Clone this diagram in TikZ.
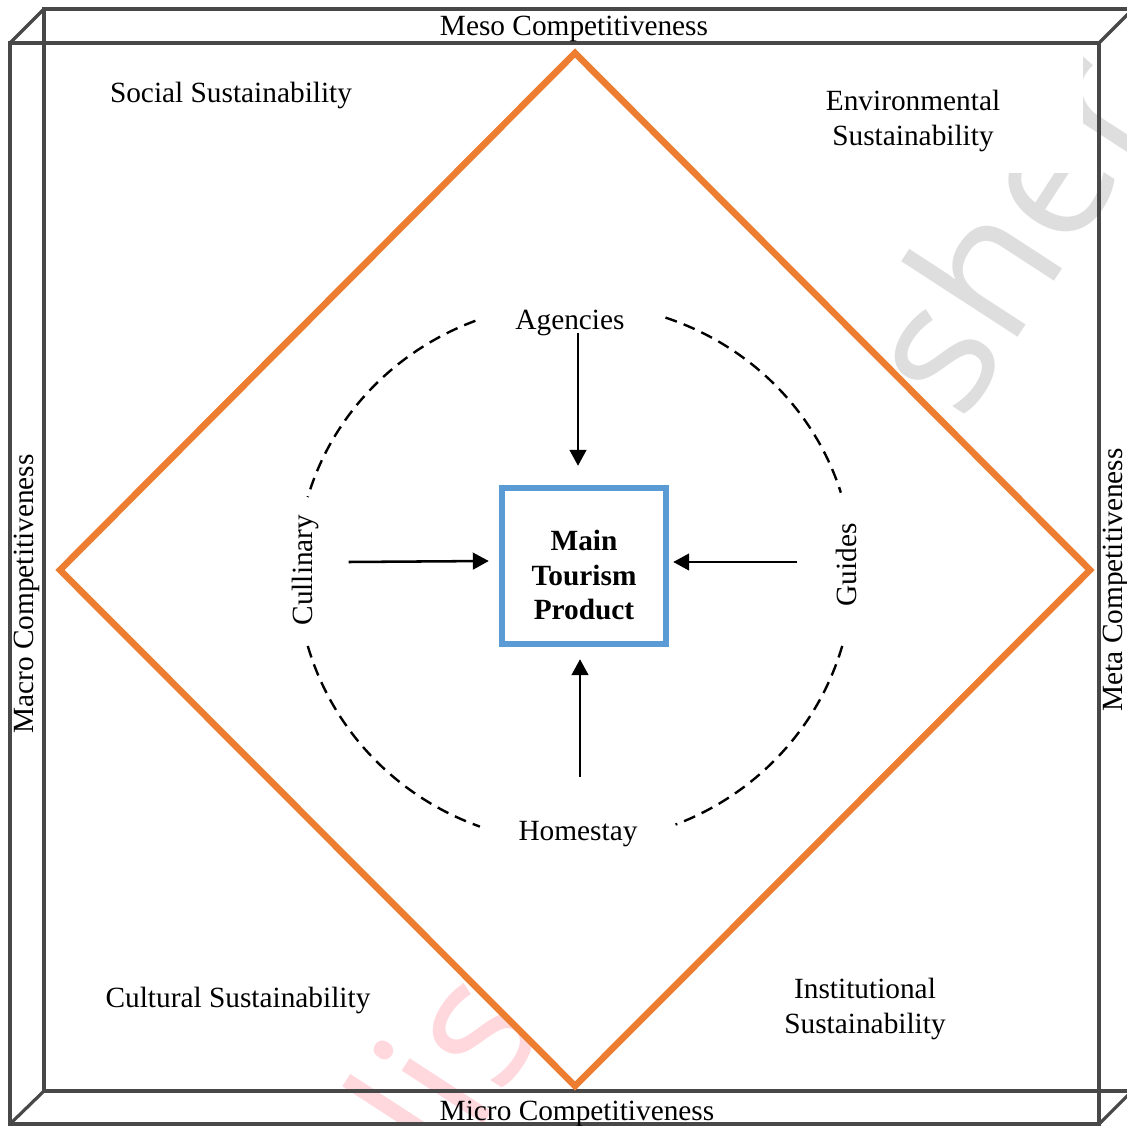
\documentclass[tikz,border=0pt]{standalone}
\usepackage{fontspec}
\setmainfont{Liberation Serif}
\newfontfamily\wmfont{Open Sans}
\usetikzlibrary{arrows.meta}
\definecolor{frameC}{HTML}{484848}
\definecolor{orangeC}{HTML}{ED7D31}
\definecolor{blueC}{HTML}{5B9BD5}
\definecolor{wmGray}{HTML}{DEDEDE}
\definecolor{wmRed}{HTML}{FFD8DE}
\tikzset{
  x=0.75pt,y=-0.75pt,
  lab/.style={font=\fontsize{22pt}{26.25pt}\selectfont,inner sep=0pt,align=center},
  framel/.style={draw=frameC,line width=2.4pt},
  arr/.style={draw=black,line width=1.9pt,-{Triangle[length=12pt,width=12.5pt]}},
  dashline/.style={draw=black,line width=1.8pt,dash pattern=on 9pt off 5.5pt},
  wm/.style={font=\fontsize{137pt}{137pt}\wmfont,rotate=57,anchor=base west,inner sep=0pt},
}
\begin{document}
\begin{tikzpicture}
\useasboundingbox (0,0) rectangle (1127,1126);
\clip (0,0) rectangle (1127,1126);
% watermark fragments
\node[wm,text=wmGray] (wmg) at (937,463) {isher};
\node[wm,text=wmRed] (wmr) at (450,1176) {lis};
\fill[white] (44,44) rectangle (1083,173);
% frame
\draw[framel] (44,1091) -- (44,9) -- (1135,9);
\draw[framel] (44,1091) -- (1135,1091);
\draw[framel] (10,1124) rectangle (1099,43);
\draw[framel] (10,43) -- (44,9);
\draw[framel] (10,1124) -- (44,1091);
\draw[framel] (1099,43) -- (1135,7);
\draw[framel] (1099,1124) -- (1131,1092);
% diamond
\path[fill=white,draw=orangeC,line width=5pt,miter limit=10]
  (575,53) -- (1090,570) -- (575,1086) -- (60,570) -- cycle;
% centre box
\node[draw=blueC,line width=4.8pt,minimum width=123pt,minimum height=117pt,inner sep=0pt] (box) at (584,566) {};
\node[inner sep=0pt,font=\fontsize{22pt}{26pt}\selectfont\bfseries,align=center] (boxt) at (584,575)
      {Main\\Tourism\\Product};
% labels
\node[lab] (meso) at (574,29) {Meso Competitiveness};
\node[lab] (micro) at (577,1114) {Micro Competitiveness};
\node[lab,rotate=90] (macro) at (27,594) {Macro Competitiveness};
\node[lab,rotate=90] (meta) at (1116,580) {Meta Competitiveness};
\node[lab] (social) at (231,95) {Social Sustainability};
\node[lab] (env) at (913,121) {Environmental\\Sustainability};
\node[lab] (cult) at (238,1000) {Cultural Sustainability};
\node[lab] (inst) at (865,1009) {Institutional\\Sustainability};
\node[lab] (ag) at (570,323) {Agencies};
\node[lab] (home) at (578,834) {Homestay};
\node[lab,rotate=90] (cul) at (305,570) {Cullinary};
\node[lab,rotate=90] (gui) at (846,565) {Guides};
% dashed arcs
\draw[dashline] plot[domain=249:196,samples=40,smooth] ({575+278*cos(\x)},{571+268*sin(\x)});
\draw[dashline] plot[domain=289:343,samples=40,smooth] ({575+278*cos(\x)},{571+268*sin(\x)});
\draw[dashline] plot[domain=16:68.8,samples=40,smooth] ({575+278*cos(\x)},{571+272*sin(\x)});
\draw[dashline] plot[domain=164:110,samples=40,smooth] ({575+278*cos(\x)},{571+272*sin(\x)});
% arrows
\draw[arr] ([shift={(8,-3)}]ag.south) -- ([shift={(-6,-19)}]box.north);
\draw[arr] ([shift={(2,-44)}]home.north) -- ([shift={(-4,12)}]box.south);
\draw[arr] ([shift={(30,-4)}]cul.south |- box.west) -- ([shift={(-10,-5)}]box.west);
\draw[arr] ([shift={(-38,-4)}]gui.north |- box.east) -- ([shift={(4,-4)}]box.east);
\end{tikzpicture}
\end{document}
